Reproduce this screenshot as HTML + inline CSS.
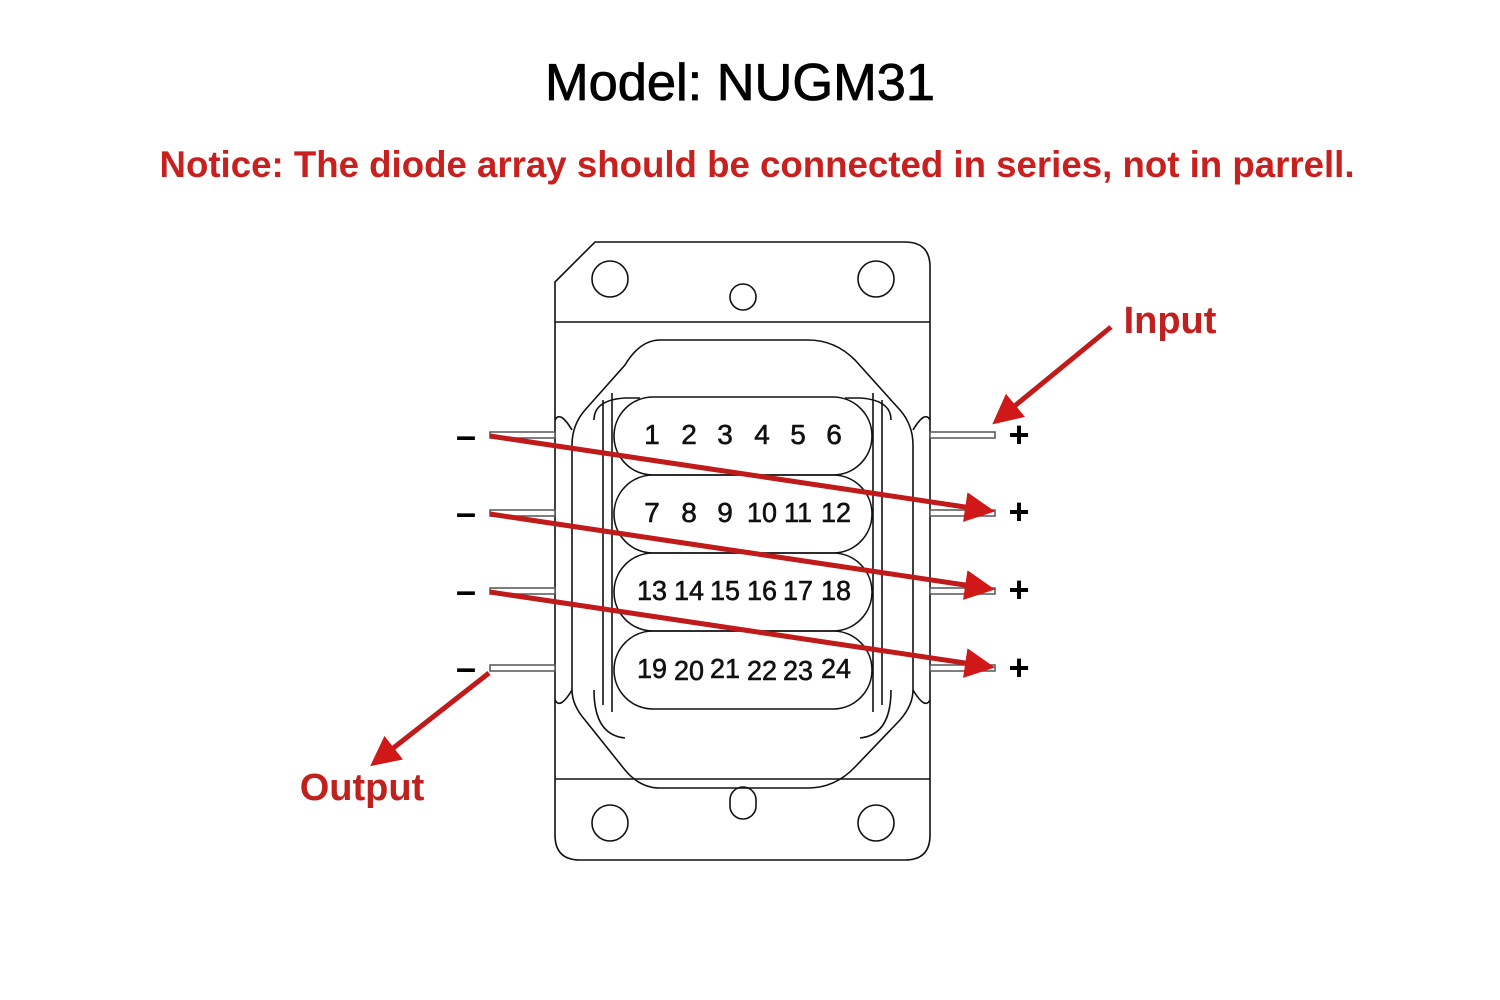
<!DOCTYPE html>
<html><head><style>
html,body{margin:0;padding:0;background:#fff;width:1500px;height:1000px;overflow:hidden}
</style></head><body>
<svg width="1500" height="1000" viewBox="0 0 1500 1000" xmlns="http://www.w3.org/2000/svg">
<defs>
<marker id="ah" markerWidth="6" markerHeight="6" refX="4" refY="3" orient="auto" markerUnits="strokeWidth">
<path d="M0,0 L6,3 L0,6 z" fill="#d01818"/></marker>
</defs>
<text x="740" y="100" text-anchor="middle" font-family="Liberation Sans, sans-serif" font-size="52" fill="#000" stroke="#000" stroke-width="0.8" textLength="390" lengthAdjust="spacingAndGlyphs">Model: NUGM31</text>
<text x="757" y="177" text-anchor="middle" font-family="Liberation Sans, sans-serif" font-size="37" font-weight="bold" fill="#c8201e" textLength="1195" lengthAdjust="spacingAndGlyphs">Notice: The diode array should be connected in series, not in parrell.</text>

<g fill="none" stroke="#111" stroke-width="1.6">
<path d="M555,282 L595,242 L905,242 Q930,242 930,267 L930,835 Q930,860 905,860 L580,860 Q555,860 555,835 Z"/>
<line x1="555" y1="322" x2="930" y2="322"/>
<line x1="555" y1="779" x2="930" y2="779"/>
<circle cx="610" cy="279" r="18"/><circle cx="876" cy="279" r="18"/>
<circle cx="743" cy="297" r="13"/>
<circle cx="610" cy="823" r="18"/><circle cx="876" cy="823" r="18"/>
<rect x="730" y="787" width="26" height="32" rx="13"/>
<path d="M660,340 L808,340 Q835,340 855,360 L900,410 Q913,425 913,445 L913,690 Q913,705 900,720 L855,767 Q835,788 808,788 L660,788 Q640,788 625,770 L585,720 Q572,705 572,690 L572,445 Q572,425 585,410 L625,365 Q640,340 660,340 Z"/>
<path d="M594,420 Q594,400 625,398 L640,398"/>
<path d="M891,420 Q891,400 860,398 L845,398"/>
<path d="M594,690 Q594,735 625,738"/>
<path d="M891,690 Q891,735 860,738"/>
<line x1="603" y1="400" x2="603" y2="705"/><line x1="612" y1="393" x2="612" y2="712"/>
<line x1="873" y1="393" x2="873" y2="712"/><line x1="882" y1="400" x2="882" y2="705"/>
<path d="M572,430 Q560,410 555,420"/><path d="M913,430 Q925,410 930,420"/>
<path d="M572,690 Q560,710 555,700"/><path d="M913,690 Q925,710 930,700"/>
<rect x="614" y="397" width="258" height="78" rx="39"/>
<rect x="614" y="475" width="258" height="78" rx="39"/>
<rect x="614" y="553" width="258" height="78" rx="39"/>
<rect x="614" y="631" width="258" height="78" rx="39"/>
</g>
<g fill="#fff" stroke="#555" stroke-width="1.5">
<rect x="490" y="432" width="65" height="6"/><rect x="490" y="510" width="65" height="6"/>
<rect x="490" y="588" width="65" height="6"/><rect x="490" y="665" width="65" height="6"/>
<rect x="930" y="432" width="65" height="6"/><rect x="930" y="510" width="65" height="6"/>
<rect x="930" y="588" width="65" height="6"/><rect x="930" y="665" width="65" height="6"/>
</g>
<g font-family="Liberation Sans, sans-serif" font-size="28" fill="#111" stroke="#111" stroke-width="0.6" text-anchor="middle">
<text x="652" y="444">1</text><text x="689" y="444">2</text><text x="725" y="444">3</text><text x="762" y="444">4</text><text x="798" y="444">5</text><text x="834" y="444">6</text>
<text x="652" y="522">7</text><text x="689" y="522">8</text><text x="725" y="522">9</text><text x="762" y="522" textLength="30" lengthAdjust="spacingAndGlyphs">10</text><text x="798" y="522" textLength="28" lengthAdjust="spacingAndGlyphs">11</text><text x="836" y="522" textLength="30" lengthAdjust="spacingAndGlyphs">12</text>
<g textLength="30">
<text x="652" y="600" textLength="30" lengthAdjust="spacingAndGlyphs">13</text><text x="689" y="600" textLength="30" lengthAdjust="spacingAndGlyphs">14</text><text x="725" y="600" textLength="30" lengthAdjust="spacingAndGlyphs">15</text><text x="762" y="600" textLength="30" lengthAdjust="spacingAndGlyphs">16</text><text x="798" y="600" textLength="30" lengthAdjust="spacingAndGlyphs">17</text><text x="836" y="600" textLength="30" lengthAdjust="spacingAndGlyphs">18</text>
<text x="652" y="678" textLength="30" lengthAdjust="spacingAndGlyphs">19</text><text x="689" y="680" textLength="30" lengthAdjust="spacingAndGlyphs">20</text><text x="725" y="678" textLength="30" lengthAdjust="spacingAndGlyphs">21</text><text x="762" y="680" textLength="30" lengthAdjust="spacingAndGlyphs">22</text><text x="798" y="680" textLength="30" lengthAdjust="spacingAndGlyphs">23</text><text x="836" y="678" textLength="30" lengthAdjust="spacingAndGlyphs">24</text>
</g>
</g>
<g font-family="Liberation Sans, sans-serif" font-size="36" font-weight="bold" fill="#000" text-anchor="middle">
<text x="466" y="448">–</text><text x="466" y="525">–</text><text x="466" y="603">–</text><text x="466" y="680">–</text>
<text x="1019" y="447">+</text><text x="1019" y="524">+</text><text x="1019" y="602">+</text><text x="1019" y="680">+</text>
</g>
<g stroke="#c01a1a" stroke-width="5" fill="none" marker-end="url(#ah)">
<line x1="490" y1="436" x2="985" y2="510"/>
<line x1="490" y1="514" x2="985" y2="588"/>
<line x1="490" y1="592" x2="985" y2="666"/>
<line x1="1111" y1="327" x2="1000" y2="418"/>
<line x1="489" y1="673" x2="378" y2="760"/>
</g>
<text x="1170" y="333" text-anchor="middle" font-family="Liberation Sans, sans-serif" font-size="38" font-weight="bold" fill="#c0201e">Input</text>
<text x="362" y="800" text-anchor="middle" font-family="Liberation Sans, sans-serif" font-size="38" font-weight="bold" fill="#c0201e">Output</text>
</svg>
</body></html>
